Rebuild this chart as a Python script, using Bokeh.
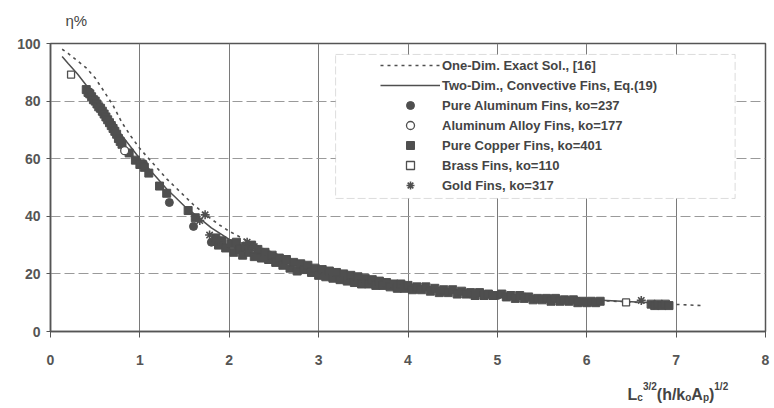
from bokeh.plotting import figure
from bokeh.models import Range1d, FixedTicker, Legend, LegendItem, BoxAnnotation, ColumnDataSource
from bokeh.layouts import column
from bokeh.core.properties import value
from bokeh.embed import file_html
from bokeh.resources import INLINE

# ---------------- data ----------------
one_dim_x = [0.13, 0.2, 0.3, 0.4, 0.5, 0.6, 0.7, 0.8, 0.9, 1.0, 1.1, 1.2, 1.3, 1.4, 1.5,
             1.6, 1.7, 1.8, 1.9, 2.0, 2.2, 2.4, 2.6, 2.8, 3.0, 3.3, 3.6, 4.0, 4.5, 5.0,
             5.5, 6.0, 6.5, 7.0, 7.3]
one_dim_y = [98.0, 96.5, 94.0, 91.5, 88.0, 83.3, 78.5, 72.5, 67.8, 63.5, 60.0, 56.5, 53.0, 50.0, 47.0,
             44.0, 41.5, 39.0, 36.8, 34.8, 31.5, 28.5, 26.0, 24.0, 22.0, 20.0, 18.3, 16.5, 14.8, 13.3,
             12.1, 11.0, 10.2, 9.4, 9.0]

two_dim_x = [0.13, 0.2, 0.3, 0.4, 0.5, 0.6, 0.7, 0.8, 0.9, 1.0, 1.1, 1.2, 1.3, 1.4, 1.5,
             1.6, 1.7, 1.8, 1.9, 2.0, 2.2, 2.4, 2.6, 2.8, 3.0, 3.3, 3.6, 4.0, 4.5, 5.0,
             5.5, 6.0, 6.5, 6.9]
two_dim_y = [95.5, 93.0, 89.5, 85.5, 81.5, 77.0, 72.5, 68.0, 64.0, 60.0, 56.5, 53.0, 49.5, 46.5, 43.5,
             41.0, 38.5, 36.0, 34.0, 32.0, 29.0, 26.5, 24.5, 22.8, 21.3, 19.5, 18.0, 16.3, 14.7, 13.2,
             12.1, 11.1, 10.3, 9.7]

copper_x = [0.40, 0.42, 0.44, 0.46, 0.48, 0.50, 0.52, 0.54, 0.56, 0.58, 0.60, 0.62, 0.64, 0.66,
            0.68, 0.70, 0.72, 0.74, 0.76, 0.78, 0.80, 0.88, 0.95, 1.00, 1.05, 1.10, 1.22, 1.30,
            1.54, 1.62, 1.85, 1.88, 1.92, 1.96,
            2.02, 2.05, 2.08, 2.12, 2.15, 2.18, 2.22, 2.25, 2.28, 2.32, 2.36, 2.40, 2.44, 2.48,
            2.52, 2.56, 2.60, 2.64, 2.68, 2.72, 2.76, 2.80, 2.84, 2.88, 2.92, 2.96, 3.00, 3.04,
            3.08, 3.12, 3.16, 3.20, 3.24, 3.28, 3.32, 3.36, 3.40, 3.44, 3.48, 3.52, 3.56, 3.60,
            3.64, 3.68, 3.72, 3.76, 3.80, 3.84, 3.88, 3.92, 3.96, 4.00, 4.05, 4.10, 4.15, 4.20,
            4.25, 4.30, 4.35, 4.40, 4.45, 4.50, 4.55, 4.60, 4.65, 4.70, 4.75, 4.80, 4.85, 4.90,
            4.95, 5.05, 5.10, 5.15, 5.20, 5.25, 5.30, 5.35, 5.40, 5.45, 5.50, 5.55, 5.60, 5.65,
            5.70, 5.75, 5.80, 5.85, 5.90, 5.95, 6.00, 6.05, 6.10, 6.15, 6.72, 6.76, 6.80, 6.84,
            6.88, 6.92]
copper_y = [84.0, 83.0, 82.5, 81.5, 80.5, 80.0, 79.0, 78.0, 77.5, 76.5, 75.5, 74.5, 73.5, 72.5,
            71.5, 70.5, 69.5, 68.5, 67.0, 66.0, 65.0, 62.0, 59.5, 58.0, 57.0, 55.0, 50.5, 48.0,
            42.0, 39.5, 32.5, 30.0, 31.5, 29.0,
            30.5, 27.5, 31.0, 28.5, 26.5, 29.5, 27.5, 30.0, 26.0, 28.5, 25.5, 27.5, 25.0, 26.5,
            24.0, 25.5, 23.0, 25.0, 22.0, 24.0, 21.0, 23.5, 21.5, 23.0, 20.5, 22.0, 19.5, 21.5,
            19.0, 21.0, 18.5, 20.5, 18.0, 20.0, 17.5, 19.5, 17.0, 19.0, 16.5, 18.5, 16.5, 18.0,
            16.0, 17.5, 16.0, 17.0, 15.5, 16.5, 15.0, 16.5, 15.0, 16.0, 14.5, 15.5, 14.5, 15.5,
            14.0, 15.0, 13.5, 14.5, 13.5, 14.5, 13.0, 14.0, 13.0, 13.5, 12.5, 13.5, 12.5, 13.0,
            12.5, 13.0, 12.0, 12.5, 11.5, 12.5, 11.5, 12.0, 11.0, 11.5, 11.0, 11.5, 10.5, 11.5,
            10.5, 11.0, 10.5, 11.0, 10.0, 10.5, 10.0, 10.5, 10.0, 10.5, 9.5, 9.0, 9.5, 9.0,
            9.5, 9.0]

aluminum_x = [0.44, 0.58, 0.70, 1.04, 1.33, 1.60, 1.80, 2.10, 2.35, 2.62, 2.85, 3.10, 3.35,
              3.60, 3.85, 4.10, 4.40, 4.70, 5.00, 5.30, 5.60, 5.90, 6.75]
aluminum_y = [83.0, 76.0, 71.0, 58.3, 44.8, 36.5, 31.0, 29.0, 27.0, 24.5, 22.0, 20.0, 18.5,
              17.0, 16.0, 15.0, 14.0, 13.0, 12.5, 12.0, 11.0, 10.5, 9.2]

alloy_x = [0.83]
alloy_y = [62.8]

brass_x = [0.23, 6.44]
brass_y = [89.2, 10.1]

gold_x = [1.67, 1.73, 1.78, 1.88, 2.20, 2.28, 6.61]
gold_y = [38.5, 40.5, 33.5, 31.5, 31.0, 29.5, 10.8]

labels = ["One-Dim. Exact Sol., [16]",
          "Two-Dim., Convective Fins, Eq.(19)",
          "Pure Aluminum Fins, ko=237",
          "Aluminum Alloy Fins, ko=177",
          "Pure Copper Fins, ko=401",
          "Brass Fins, ko=110",
          "Gold Fins, ko=317"]

x_ticks = [0, 1, 2, 3, 4, 5, 6, 7, 8]
y_ticks = [0, 20, 40, 60, 80, 100]

y_title = "η%"
# x-axis title  L_c^{3/2}(h/k_o A_p)^{1/2} : pieces (text, role)
x_title_text = ["L", "c", "3/2", "(h/k", "o", "A", "p", ")", "1/2"]
x_title_role = ["base", "sub", "sup", "base", "sub", "base", "sub", "base", "sup"]

# ---------------- styling ----------------
INK = "#4f4f4f"
TXT = "#444444"
FONT = "Liberation Sans"
W = 770
ML, MR = 50, 5

# ---------------- header strip carrying the y-axis title ----------------
head = figure(width=W, height=33, x_range=Range1d(0, 8), y_range=Range1d(0, 33),
              output_backend="svg", toolbar_location=None,
              x_axis_type=None, y_axis_type=None,
              min_border_left=ML, min_border_right=MR, min_border_top=0, min_border_bottom=0)
head.grid.visible = False
head.outline_line_color = None
head.background_fill_color = "white"
head.border_fill_color = "white"
head.text(x=[0.168], y=[13], text=[y_title], text_font=value(FONT), text_font_size="15px",
          text_color=TXT, text_baseline="alphabetic", text_align="left")

# ---------------- main chart ----------------
p = figure(width=W, height=339, x_range=head.x_range, y_range=Range1d(0, 100),
           output_backend="svg", toolbar_location=None,
           min_border_left=ML, min_border_right=MR, min_border_top=10, min_border_bottom=41)
p.background_fill_color = "white"
p.border_fill_color = "white"
p.outline_line_color = "#555555"
p.outline_line_width = 1.5

p.xaxis.ticker = FixedTicker(ticks=x_ticks)
p.yaxis.ticker = FixedTicker(ticks=y_ticks)
for ax in (p.xaxis, p.yaxis):
    ax.axis_line_color = "#555555"
    ax.axis_line_width = 1.5
    ax.major_tick_line_color = "#555555"
    ax.major_tick_in = 0
    ax.minor_tick_line_color = None
    ax.major_label_text_font = FONT
    ax.major_label_text_font_style = "bold"
    ax.major_label_text_font_size = "14px"
    ax.major_label_text_color = "#555555"
p.xaxis.major_tick_out = 6
p.xaxis.major_label_standoff = 17
p.yaxis.major_tick_out = 4
p.yaxis.major_label_standoff = 6

p.xgrid.grid_line_color = "#7a7a7a"
p.xgrid.grid_line_width = 1
p.ygrid.grid_line_color = "#9a9a9a"
p.ygrid.grid_line_width = 1
p.ygrid.grid_line_dash = "10 4"

r_one = p.line(one_dim_x, one_dim_y, line_color=INK, line_width=1.6, line_dash="3 4")
r_two = p.line(two_dim_x, two_dim_y, line_color=INK, line_width=1.5)
r_al = p.scatter(aluminum_x, aluminum_y, marker="circle", size=8, fill_color=INK, line_color=INK)
r_cu = p.scatter(copper_x, copper_y, marker="square", size=8, fill_color=INK, line_color=INK)
r_alloy = p.scatter(alloy_x, alloy_y, marker="circle", size=8, fill_color="white",
                    line_color=INK, line_width=1.3)
r_brass = p.scatter(brass_x, brass_y, marker="square", size=7, fill_color="white",
                    line_color=INK, line_width=1.3)
r_gold = p.scatter(gold_x, gold_y, marker="asterisk", size=9, line_color=INK, line_width=1.6)

# legend frame (white box hiding the grid) and legend
box = BoxAnnotation(left=3.19, right=7.66, bottom=46.2, top=96.2,
                    fill_color="white", fill_alpha=1.0,
                    line_color="#8a8a8a", line_width=1, line_dash="8 3")
p.add_layout(box)

legend = Legend(items=[LegendItem(label=labels[0], renderers=[r_one]),
                       LegendItem(label=labels[1], renderers=[r_two]),
                       LegendItem(label=labels[2], renderers=[r_al]),
                       LegendItem(label=labels[3], renderers=[r_alloy]),
                       LegendItem(label=labels[4], renderers=[r_cu]),
                       LegendItem(label=labels[5], renderers=[r_brass]),
                       LegendItem(label=labels[6], renderers=[r_gold])],
                location=(330, 136), margin=0, padding=0, spacing=0,
                glyph_width=60, glyph_height=20, label_height=20, label_standoff=2,
                background_fill_alpha=0, border_line_alpha=0,
                label_text_font=FONT, label_text_font_style="bold",
                label_text_font_size="13px", label_text_color=TXT)
p.add_layout(legend)

# ---------------- caption strip carrying the x-axis title ----------------
cap = figure(width=W, height=34, x_range=head.x_range, y_range=Range1d(0, 34),
             output_backend="svg", toolbar_location=None,
             x_axis_type=None, y_axis_type=None,
             min_border_left=ML, min_border_right=MR, min_border_top=0, min_border_bottom=0)
cap.grid.visible = False
cap.outline_line_color = None
cap.background_fill_color = "white"
cap.border_fill_color = "white"

role_y = {"base": 12, "sub": 9, "sup": 20}
role_size = {"base": "16px", "sub": "10px", "sup": "10px"}
# horizontal offsets (px) of each piece from the start of the title
x_title_dx = [0.0, 9.8, 15.4, 29.3, 57.7, 63.8, 75.4, 81.5, 86.8]
src = ColumnDataSource(dict(
    x=[6.456] * len(x_title_text),
    y=[role_y[r] for r in x_title_role],
    text=x_title_text,
    dx=x_title_dx,
    size=[role_size[r] for r in x_title_role],
))
cap.text(x="x", y="y", text="text", x_offset="dx", text_font_size="size", source=src,
         text_font=value(FONT), text_font_style="bold", text_color=TXT,
         text_baseline="alphabetic", text_align="left")

layout = column(head, p, cap, spacing=0)
open("out.html", "w").write(file_html(layout, INLINE))
